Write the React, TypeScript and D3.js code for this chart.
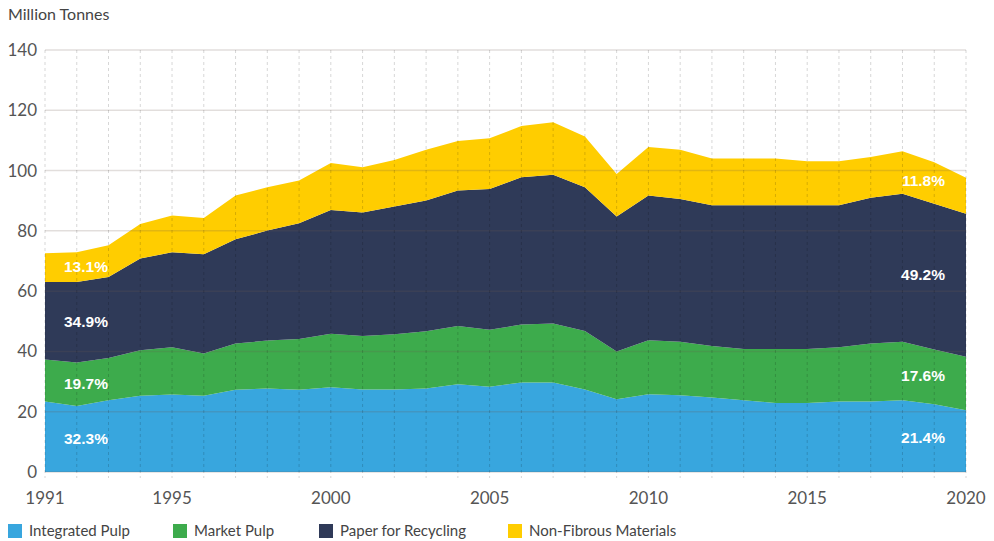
import React from 'react';
import * as d3 from 'd3';

// values in million tonnes
const years = d3.range(1991, 2021);
const integratedPulp = [23.4, 21.9, 23.8, 25.3, 25.7, 25.3, 27.3, 27.7, 27.3, 28.1, 27.4, 27.4, 27.7, 29.1, 28.3, 29.7, 29.7, 27.4, 24.1, 25.8, 25.5, 24.7, 23.8, 22.9, 22.9, 23.4, 23.4, 23.8, 22.5, 20.5];
const marketPulp = [13.9, 14.4, 14.0, 15.1, 15.7, 14.0, 15.3, 15.9, 16.8, 17.8, 17.7, 18.3, 19.0, 19.3, 18.9, 19.2, 19.6, 19.4, 15.9, 17.9, 17.7, 17.1, 17.0, 17.9, 17.9, 18.0, 19.2, 19.4, 18.1, 17.7];
const paperForRecycling = [25.7, 26.7, 26.9, 30.4, 31.5, 32.9, 34.6, 36.5, 38.4, 41.0, 41.0, 42.4, 43.4, 45.0, 46.7, 48.9, 49.3, 47.7, 44.8, 48.0, 47.4, 46.7, 47.7, 47.7, 47.7, 47.1, 48.4, 49.1, 48.4, 47.5];
const nonFibrous = [9.6, 9.9, 10.5, 11.5, 12.2, 12.1, 14.5, 14.4, 14.2, 15.6, 15.0, 15.4, 16.8, 16.4, 16.8, 17.0, 17.4, 16.8, 14.1, 16.1, 16.3, 15.5, 15.5, 15.5, 14.6, 14.6, 13.5, 14.1, 13.8, 11.9];

const seriesNames = ['Integrated Pulp', 'Market Pulp', 'Paper for Recycling', 'Non-Fibrous Materials'];
const seriesColors = ['#38a6de', '#3dab4c', '#2f3a58', '#ffcd00'];
const yTicks = [0, 20, 40, 60, 80, 100, 120, 140];
const xTickYears = [1991, 1995, 2000, 2005, 2010, 2015, 2020];
const shares1991 = ['32.3%', '19.7%', '34.9%', '13.1%'];
const shares2020 = ['21.4%', '17.6%', '49.2%', '11.8%'];

const W = 994;
const H = 541;
const margin = { left: 45, right: 28, top: 50, bottom: 69 };

export default function App() {
  const x = d3.scaleLinear().domain([1991, 2020]).range([margin.left, W - margin.right]);
  const y = d3.scaleLinear().domain([0, 140]).range([H - margin.bottom, margin.top]);

  const rows = years.map((yr, i) => ({
    year: yr,
    s0: integratedPulp[i],
    s1: marketPulp[i],
    s2: paperForRecycling[i],
    s3: nonFibrous[i],
  }));
  const stacked = d3.stack<any>().keys(['s0', 's1', 's2', 's3'])(rows);

  const area = d3.area<any>()
    .x(d => x(d.data.year))
    .y0(d => y(d[0]))
    .y1(d => y(d[1]));

  const labelFont = 'Lato, "Open Sans", sans-serif';
  const pctFont = '"Liberation Sans", Arial, sans-serif';

  // band middle at a fractional year, linear between the two nearest points
  const bandMid = (s: any, yr: number) => {
    const i = Math.floor(yr - 1991);
    const f = yr - 1991 - i;
    const lo = s[i][0] + (s[i + 1][0] - s[i][0]) * f;
    const hi = s[i][1] + (s[i + 1][1] - s[i][1]) * f;
    return (lo + hi) / 2;
  };
  const leftX = 64;
  const rightX = 945;
  const leftYear = x.invert(leftX + 21);
  const rightYear = x.invert(rightX - 21);

  const legendX = [8, 173, 319, 508];

  return (
    <svg width={W} height={H} style={{ position: 'absolute', left: 0, top: 0, background: '#fff' }}>
      <text x={8} y={20} fontFamily={labelFont} fontSize={16} fill="#444">Million Tonnes</text>

      {stacked.map((s, i) => (
        <path key={i} d={area(s) || ''} fill={seriesColors[i]} />
      ))}

      {/* grid drawn over the areas */}
      {yTicks.map(t => (
        <line key={t} x1={margin.left} x2={W - margin.right} y1={y(t)} y2={y(t)}
          stroke="rgba(110,90,80,0.2)" strokeWidth={1.5} />
      ))}
      {years.map(yr => (
        <line key={yr} x1={x(yr)} x2={x(yr)} y1={margin.top} y2={y(0) + 6}
          stroke="rgba(0,0,0,0.16)" strokeDasharray="3,3" />
      ))}

      {yTicks.map(t => (
        <text key={t} x={37} y={y(t) + 6} textAnchor="end" fontFamily={labelFont} fontSize={17} fill="#555">{t}</text>
      ))}
      {xTickYears.map(t => (
        <text key={t} x={x(t)} y={504} textAnchor="middle" fontFamily={labelFont} fontSize={17} fill="#555">{t}</text>
      ))}

      {shares1991.map((p, i) => (
        <text key={'a' + i} x={leftX} y={y(bandMid(stacked[i], leftYear)) + 6} fontFamily={pctFont} fontWeight="bold" fontSize={15.5} fill="#fff">{p}</text>
      ))}
      {shares2020.map((p, i) => (
        <text key={'b' + i} x={rightX} y={y(bandMid(stacked[i], rightYear)) + 6} textAnchor="end" fontFamily={pctFont} fontWeight="bold" fontSize={15.5} fill="#fff">{p}</text>
      ))}

      {seriesNames.map((n, i) => (
        <g key={n} transform={`translate(${legendX[i]},524)`}>
          <rect width={14} height={14} fill={seriesColors[i]} />
          <text x={21} y={12} fontFamily={labelFont} fontSize={15} fill="#444">{n}</text>
        </g>
      ))}
    </svg>
  );
}
